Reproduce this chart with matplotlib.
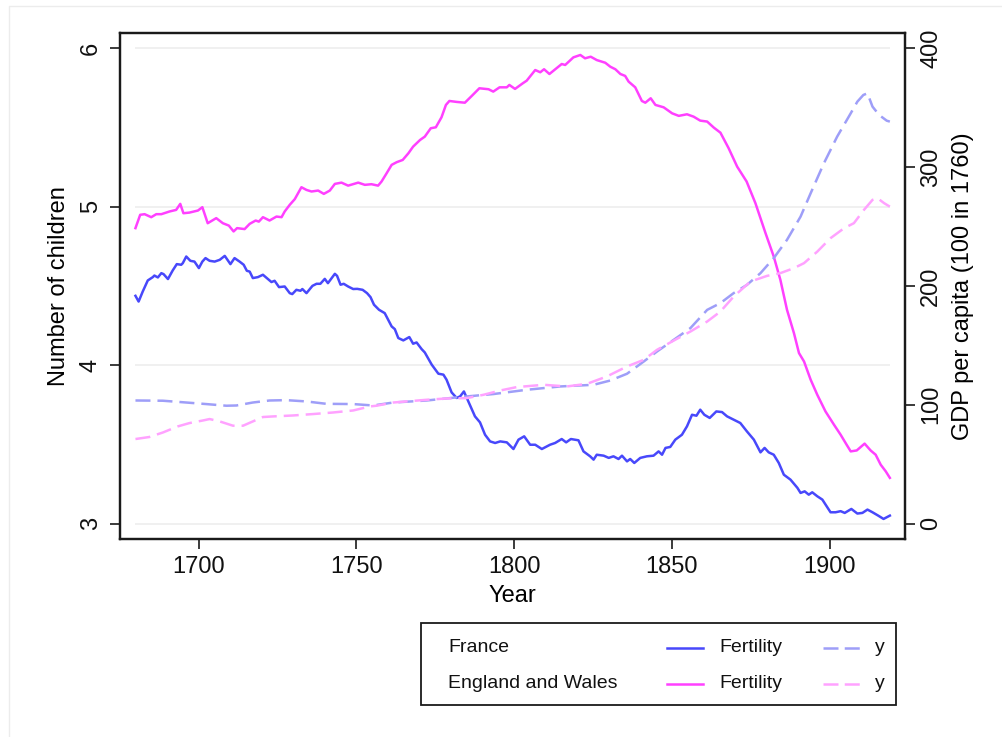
import matplotlib
matplotlib.use("Agg")
import matplotlib.pyplot as plt
from matplotlib.lines import Line2D
from matplotlib.patches import Rectangle

plt.rcParams['font.family'] = ['Liberation Sans', 'DejaVu Sans']

# ---------------- data ----------------
fr_fert_years = [1680, 1681, 1682.3, 1683.9, 1685.5, 1686.0, 1687.1, 1688.2, 1688.9, 1690.3, 1691.8, 1693.1,
                 1694.5, 1695.0, 1696.1, 1697.4, 1698.7, 1700.1, 1701.2, 1702.2, 1703.5, 1705.1, 1706.7, 1708.3,
                 1710.1, 1711.4, 1713.0, 1714.3, 1715.3, 1716.2, 1717.2, 1718.8, 1720.4, 1722.0, 1723.1, 1724.1,
                 1725.5, 1727.3, 1728.9, 1729.7, 1731.0, 1732.3, 1732.9, 1734.2, 1736.1, 1737.4, 1738.6, 1740.0,
                 1741.0, 1743.2, 1743.9, 1745.0, 1746.0, 1747.4, 1749.0, 1750.3, 1752.0, 1753.4, 1754.5, 1755.6,
                 1757.2, 1759.0, 1761.2, 1762.2, 1763.3, 1764.9, 1766.8, 1768.0, 1769.1, 1770.7, 1771.7, 1773.9,
                 1776.0, 1777.6, 1778.6, 1780.2, 1781.8, 1782.9, 1784.1, 1785.5, 1787.6, 1789.2, 1790.8, 1792.4,
                 1794.0, 1795.6, 1797.7, 1799.8, 1801.4, 1803.2, 1805.1, 1806.7, 1808.8, 1811.4, 1813.0, 1815.1,
                 1816.5, 1818.0, 1820.4, 1822.0, 1824.1, 1825.2, 1826.2, 1828.4, 1830.0, 1831.5, 1833.1, 1834.2,
                 1835.8, 1836.8, 1838.1, 1840.0, 1842.1, 1844.2, 1845.8, 1846.9, 1848.0, 1849.5, 1851.1, 1853.2,
                 1854.8, 1856.4, 1857.8, 1859.0, 1860.3, 1862.0, 1864.1, 1865.9, 1867.5, 1869.6, 1871.7, 1873.8,
                 1876.0, 1878.1, 1879.4, 1880.7, 1882.3, 1883.9, 1885.5, 1887.6, 1889.8, 1890.8, 1892.1, 1893.4,
                 1894.5, 1896.1, 1897.7, 1898.7, 1900.3, 1901.9, 1903.5, 1904.8, 1906.9, 1908.8, 1910.4, 1912.0,
                 1913.6, 1915.4, 1917.1, 1918.3, 1919.1]
fr_fert = [4.437, 4.401, 4.464, 4.534, 4.555, 4.565, 4.553, 4.580, 4.574, 4.543, 4.597, 4.637,
           4.633, 4.643, 4.685, 4.658, 4.653, 4.612, 4.653, 4.675, 4.658, 4.653, 4.664, 4.689,
           4.637, 4.675, 4.653, 4.633, 4.595, 4.590, 4.549, 4.555, 4.570, 4.543, 4.524, 4.532,
           4.492, 4.496, 4.454, 4.448, 4.475, 4.469, 4.480, 4.454, 4.500, 4.513, 4.513, 4.544,
           4.517, 4.576, 4.563, 4.507, 4.513, 4.496, 4.480, 4.481, 4.475, 4.454, 4.429, 4.381,
           4.349, 4.328, 4.244, 4.227, 4.171, 4.156, 4.177, 4.135, 4.143, 4.101, 4.080, 4.003,
           3.946, 3.940, 3.908, 3.828, 3.793, 3.803, 3.834, 3.771, 3.677, 3.639, 3.561, 3.519,
           3.509, 3.519, 3.513, 3.471, 3.530, 3.551, 3.498, 3.498, 3.471, 3.498, 3.509, 3.534,
           3.513, 3.534, 3.526, 3.456, 3.425, 3.404, 3.435, 3.429, 3.415, 3.425, 3.408, 3.429,
           3.393, 3.408, 3.383, 3.415, 3.425, 3.429, 3.456, 3.435, 3.478, 3.484, 3.530, 3.561,
           3.614, 3.687, 3.681, 3.719, 3.687, 3.667, 3.708, 3.704, 3.677, 3.656, 3.635, 3.582,
           3.530, 3.450, 3.478, 3.450, 3.435, 3.383, 3.309, 3.278, 3.226, 3.194, 3.204, 3.183,
           3.198, 3.173, 3.152, 3.121, 3.072, 3.072, 3.079, 3.068, 3.093, 3.064, 3.068, 3.089,
           3.072, 3.051, 3.030, 3.043, 3.051]

ew_fert_years = [1680, 1681.5, 1682.9, 1685.0, 1686.6, 1688.2, 1690.8, 1692.9, 1694.2, 1695.2, 1697.1, 1699.8,
                 1701.2, 1702.9, 1705.6, 1707.7, 1709.6, 1711.1, 1712.2, 1714.6, 1716.2, 1718.1, 1719.1, 1720.4,
                 1722.5, 1724.7, 1726.3, 1727.3, 1728.9, 1730.5, 1732.6, 1734.2, 1735.8, 1737.9, 1739.7, 1741.6,
                 1743.2, 1745.3, 1747.4, 1750.6, 1752.7, 1754.8, 1756.9, 1758.0, 1759.6, 1761.2, 1762.8, 1764.7,
                 1766.5, 1768.0, 1770.2, 1771.7, 1773.6, 1775.2, 1777.0, 1778.4, 1779.5, 1781.8, 1784.4, 1786.6,
                 1789.0, 1791.9, 1793.4, 1795.4, 1797.7, 1798.5, 1800.3, 1802.8, 1804.0, 1806.7, 1808.3, 1809.5,
                 1811.2, 1812.5, 1815.1, 1816.2, 1818.8, 1821.0, 1822.5, 1824.3, 1826.2, 1828.9, 1830.5, 1832.1,
                 1833.7, 1835.2, 1836.3, 1838.4, 1840.5, 1841.6, 1843.3, 1844.8, 1847.4, 1850.1, 1852.2, 1854.8,
                 1856.9, 1859.0, 1861.2, 1863.3, 1865.4, 1868.0, 1870.7, 1873.7, 1876.5, 1879.7, 1882.3, 1884.4,
                 1886.5, 1888.7, 1890.3, 1891.9, 1894.0, 1896.1, 1898.7, 1901.4, 1903.5, 1905.4, 1906.7, 1908.6,
                 1911.1, 1913.0, 1914.6, 1916.2, 1917.8, 1919.1]
ew_fert = [4.864, 4.948, 4.952, 4.933, 4.952, 4.952, 4.969, 4.979, 5.017, 4.958, 4.962, 4.975,
           4.996, 4.895, 4.927, 4.895, 4.880, 4.843, 4.864, 4.858, 4.891, 4.912, 4.905, 4.933,
           4.912, 4.937, 4.933, 4.969, 5.011, 5.047, 5.122, 5.105, 5.095, 5.101, 5.080, 5.101,
           5.143, 5.151, 5.132, 5.151, 5.137, 5.141, 5.132, 5.158, 5.210, 5.263, 5.280, 5.294,
           5.336, 5.378, 5.420, 5.441, 5.494, 5.500, 5.563, 5.641, 5.666, 5.660, 5.655, 5.698,
           5.746, 5.740, 5.725, 5.752, 5.752, 5.767, 5.742, 5.778, 5.794, 5.861, 5.847, 5.866,
           5.836, 5.857, 5.899, 5.893, 5.941, 5.956, 5.935, 5.945, 5.924, 5.907, 5.882, 5.866,
           5.836, 5.824, 5.788, 5.752, 5.666, 5.655, 5.683, 5.641, 5.626, 5.588, 5.572, 5.582,
           5.567, 5.542, 5.536, 5.498, 5.466, 5.368, 5.252, 5.158, 5.021, 4.832, 4.685, 4.538,
           4.349, 4.202, 4.076, 4.023, 3.908, 3.813, 3.708, 3.624, 3.561, 3.498, 3.456, 3.462,
           3.505, 3.462, 3.435, 3.372, 3.330, 3.289]

fr_gdp_years = [1680, 1688.7, 1696.1, 1702.4, 1708.8, 1712.0, 1717.2, 1722.5, 1727.8, 1734.2, 1740.5, 1749.0,
                1755.3, 1761.7, 1772.3, 1782.9, 1793.4, 1804.0, 1814.6, 1825.2, 1830.5, 1835.8, 1841.1, 1845.3,
                1850.6, 1855.9, 1861.2, 1865.4, 1869.6, 1873.8, 1878.1, 1882.3, 1886.5, 1890.8, 1894.0, 1898.2,
                1902.4, 1906.7, 1908.8, 1910.7, 1912.0, 1913.6, 1915.7, 1918.1, 1919.1]
fr_gdp = [103.6, 103.4, 101.9, 100.6, 99.2, 99.4, 101.9, 103.6, 103.9, 102.8, 100.8, 100.6,
          99.4, 101.9, 103.6, 106.5, 109.0, 112.6, 115.4, 116.8, 120.4, 126.1, 136.4, 144.8,
          154.6, 164.5, 179.8, 185.5, 193.9, 200.8, 210.7, 223.3, 238.7, 258.2, 277.9, 303.1,
          325.5, 345.1, 354.9, 360.5, 361.9, 350.7, 343.7, 338.9, 338.1]

ew_gdp_years = [1680, 1684.4, 1688.7, 1693.4, 1697.1, 1701.4, 1703.5, 1706.7, 1710.9, 1714.1, 1717.2, 1720.4,
                1723.6, 1729.9, 1736.3, 1742.6, 1749.0, 1754.3, 1756.4, 1761.7, 1772.3, 1778.6, 1785.0, 1790.3,
                1795.6, 1800.9, 1809.4, 1816.7, 1823.1, 1829.4, 1835.8, 1841.1, 1845.3, 1850.6, 1855.9, 1861.2,
                1865.4, 1869.6, 1874.9, 1880.2, 1884.4, 1888.7, 1891.9, 1896.1, 1900.3, 1904.6, 1907.7, 1910.9,
                1913.6, 1915.2, 1917.3, 1919.1]
ew_gdp = [71.2, 72.9, 76.7, 81.8, 84.6, 86.8, 88.0, 86.0, 82.4, 82.4, 86.0, 89.7,
          90.2, 91.0, 92.2, 93.5, 95.2, 98.6, 99.2, 101.9, 104.2, 105.3, 105.6, 108.4,
          112.0, 114.9, 116.8, 115.4, 117.6, 123.8, 132.2, 137.8, 146.2, 154.0, 161.6, 170.0,
          178.4, 191.0, 203.6, 208.4, 210.7, 214.9, 219.1, 228.8, 240.1, 248.5, 252.7, 263.9,
          272.3, 273.7, 269.5, 266.6]

x_ticks = [1700, 1750, 1800, 1850, 1900]
left_ticks = [3, 4, 5, 6]
right_ticks = [0, 100, 200, 300, 400]
countries = ["France", "England and Wales"]

# ---------------- styling ----------------
C_FR = "#4848fb"
C_EW = "#ff40ff"
C_FR_Y = "#9e9ef8"
C_EW_Y = "#ffa2ff"
LW = 1.8
DASH = (6, 2.8)

W, H = 1003, 737
fig = plt.figure(figsize=(W / 100, H / 100), dpi=100)
fig.patch.set_facecolor("white")

# light outer frame
fig.add_artist(Rectangle((9 / W, 0 - 0.01), (W + 20) / W, (H - 6) / H + 0.01,
                         transform=fig.transFigure, fill=False, edgecolor="#ececec", lw=1.0))

L, R, T, B = 120, 905, 33, 539
ax = fig.add_axes([L / W, 1 - B / H, (R - L) / W, (B - T) / H])
ax2 = ax.twinx()

f_lo, f_hi = 2.9035, 6.0946
ax.set_xlim(1675.1, 1923.9)
ax.set_ylim(f_lo, f_hi)
ax2.set_ylim((f_lo - 3) * 400 / 3, (f_hi - 3) * 400 / 3)

# grid lines across the data range
ax.hlines(left_ticks, min(fr_fert_years), max(fr_fert_years), colors="#eeeeee", lw=1.2, zorder=0)

ax.plot(fr_fert_years, fr_fert, color=C_FR, lw=LW, zorder=3)
ax.plot(ew_fert_years, ew_fert, color=C_EW, lw=LW, zorder=3)
ax2.plot(fr_gdp_years, fr_gdp, color=C_FR_Y, lw=LW, dashes=DASH, zorder=2)
ax2.plot(ew_gdp_years, ew_gdp, color=C_EW_Y, lw=LW, dashes=DASH, zorder=2)

ax.set_xticks(x_ticks)
ax.set_yticks(left_ticks)
ax2.set_yticks(right_ticks)

FS = 17
for a in (ax, ax2):
    for s in a.spines.values():
        s.set_linewidth(1.6)
        s.set_color("#1a1a1a")
    a.tick_params(length=7, width=1.2, color="#1a1a1a", labelsize=FS, labelcolor="#111111")
ax.tick_params(axis="x", pad=5)
ax.tick_params(axis="y", labelrotation=90, pad=6)
ax2.tick_params(axis="y", labelrotation=90, pad=4)
for t in ax.get_yticklabels() + ax2.get_yticklabels():
    t.set_va("center")

ax.set_xlabel("Year", fontsize=FS, labelpad=5)
ax.set_ylabel("Number of children", fontsize=FS, labelpad=7)
ax2.set_ylabel("GDP per capita (100 in 1760)", fontsize=FS, labelpad=7, rotation=90)

# ---------------- legend (drawn in figure pixels) ----------------
def fx(px):
    return px / W

def fy(py):
    return 1 - py / H

fig.add_artist(Rectangle((fx(421), fy(705)), (896 - 421) / W, (705 - 623) / H,
                         transform=fig.transFigure, fill=False, edgecolor="#1a1a1a", lw=1.3))
LFS = 14
rows = [(648, C_FR, C_FR_Y), (684, C_EW, C_EW_Y)]
for name, (py, cs, cd) in zip(countries, rows):
    fig.text(fx(448), fy(py), name, fontsize=LFS, va="center", ha="left", color="#111111")
    fig.add_artist(Line2D([fx(667), fx(703)], [fy(py), fy(py)], transform=fig.transFigure,
                          color=cs, lw=LW))
    fig.text(fx(719), fy(py), "Fertility", fontsize=LFS, va="center", ha="left", color="#111111")
    fig.add_artist(Line2D([fx(823), fx(860)], [fy(py), fy(py)], transform=fig.transFigure,
                          color=cd, lw=LW, dashes=(6, 2.5)))
    fig.text(fx(875), fy(py), "y", fontsize=LFS, va="center", ha="left", color="#111111")

fig.savefig("out.png", dpi=100)
